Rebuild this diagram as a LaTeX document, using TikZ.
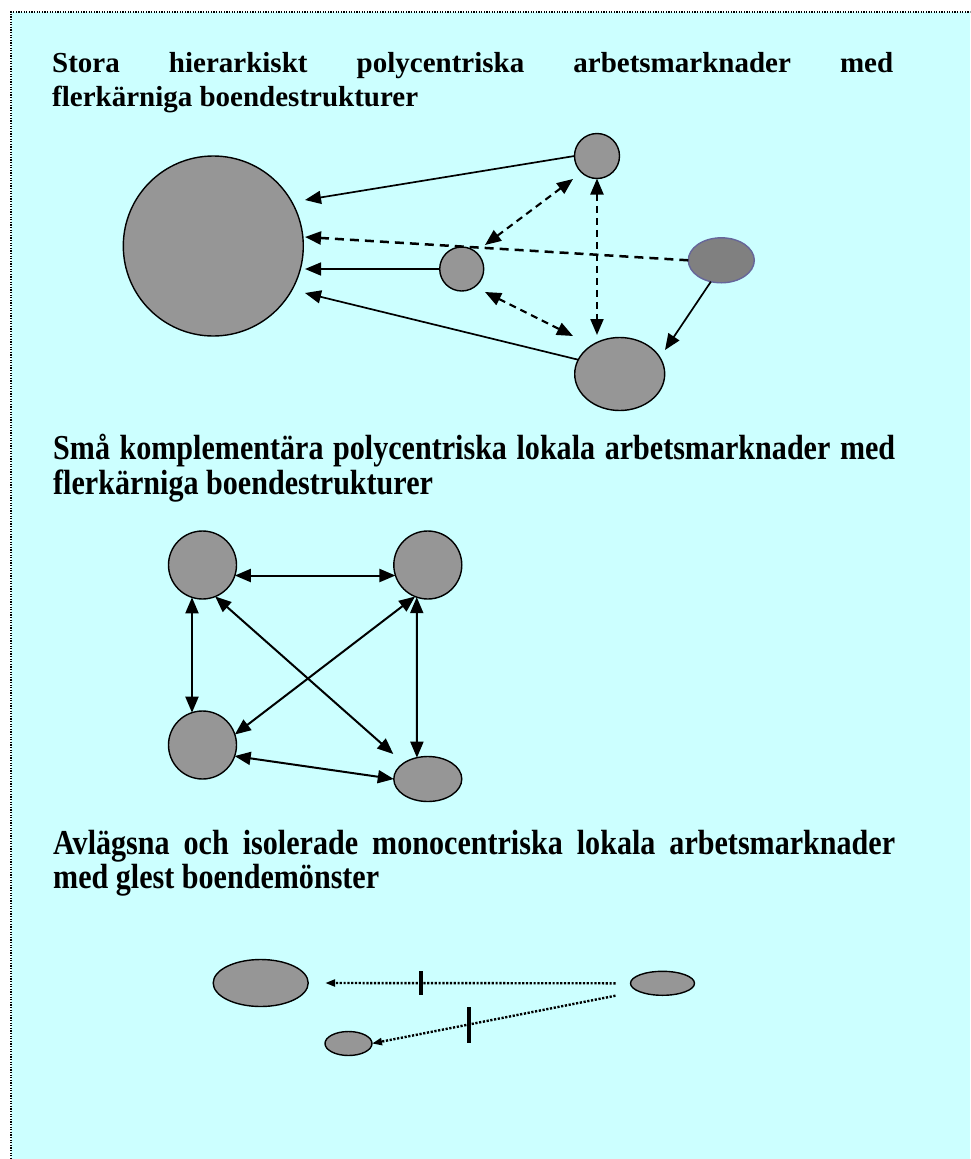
\documentclass[tikz,border=0pt]{standalone}
\usepackage{fontspec}
\setmainfont{Liberation Serif}
\newfontfamily\narrowserif[FakeStretch=0.86]{Liberation Serif}
\usetikzlibrary{arrows.meta,shapes.geometric}

\definecolor{paper}{HTML}{CCFFFF}
\definecolor{blob}{HTML}{969696}
\definecolor{darkblob}{HTML}{808080}
\definecolor{blobedge}{HTML}{666699}

\tikzset{
  hub/.style={circle,draw=black,fill=blob,line width=1.4pt,inner sep=0pt,outer sep=0pt,minimum size=#1},
  oval/.style 2 args={ellipse,draw=black,fill=blob,line width=1.4pt,inner sep=0pt,outer sep=0pt,minimum width=#1,minimum height=#2},
  heading/.style={anchor=base west,inner sep=0pt,font=\fontsize{29}{35}\selectfont\bfseries},
  narrowheading/.style={anchor=base west,inner sep=0pt,font=\narrowserif\fontsize{35}{40}\selectfont\bfseries},
  bigtip/.style={-{Triangle[length=16pt,width=13pt]}},
  bothtips/.style={{Triangle[length=16pt,width=13pt]}-{Triangle[length=16pt,width=13pt]}},
  flow/.style={line width=1.7pt},
  weakflow/.style={line width=2.5pt,dash pattern=on 9pt off 6pt},
  exchange/.style={line width=2.1pt,dash pattern=on 7pt off 5pt},
  link/.style={line width=2pt},
  faint/.style={line width=2.4pt,dash pattern=on 2.2pt off 1.6pt,-{Triangle[length=10pt,width=7pt]}},
  barrier/.style={line width=4pt}
}

\begin{document}
\begin{tikzpicture}[x=1pt,y=-1pt]
\useasboundingbox (0,0) rectangle (970,1159);

% sheet with dotted edge
\fill[paper] (11,12) rectangle (970,1159);
\draw[line width=1.3pt,dash pattern=on 1.3pt off 1.3pt] (11,1159) -- (11,12) -- (970,12);

% ---------- first panel ----------
\node[heading] (h1a) at (52,72) {\makebox[841pt][s]{Stora hierarkiskt polycentriska arbetsmarknader med}};
\node[heading] (h1b) at (52,106.5) {flerkärniga boendestrukturer};

\node[hub=180pt] (big) at (213.3,246) {};
\node[hub=44pt] (mid) at (461.7,269) {};
\node[hub=45pt] (tr) at (597,156) {};
\node[oval={66pt}{45pt},fill=darkblob,draw=blobedge] (re) at (721.3,260.3) {};
\node[oval={90pt}{73pt}] (br) at (619.7,374) {};

\coordinate (bigA) at (305,200);
\coordinate (bigB) at (305,237);
\coordinate (bigC) at (305,269);
\coordinate (bigD) at (305,293);
\coordinate (midNE) at (485,245);
\coordinate (trSW) at (573,179);
\coordinate (midSE) at (485,292);
\coordinate (brNW) at (573,336);
\coordinate (brN) at (597,335);
\coordinate (brNE) at (665,350);

\draw[flow,bigtip] (tr.west) -- (bigA);
\draw[weakflow,bigtip] (re.west) -- (bigB);
\draw[flow,bigtip] (mid.west) -- (bigC);
\draw[flow,bigtip] (br.161) -- (bigD);
\draw[exchange,bothtips] (midNE) -- (trSW);
\draw[exchange,bothtips] (midSE) -- (brNW);
\draw[exchange,bothtips] (tr.south) -- (brN);
\draw[flow,bigtip] (re.244) -- (brNE);

% ---------- second panel ----------
\node[narrowheading] (h2a) at (53,459) {\makebox[842pt][s]{Små komplementära polycentriska lokala arbetsmarknader med}};
\node[narrowheading] (h2b) at (53,494) {flerkärniga boendestrukturer};

\node[hub=68pt] (nw) at (202.5,565) {};
\node[hub=68pt] (ne) at (427.8,565) {};
\node[hub=68pt] (sw) at (202.5,745) {};
\node[oval={68pt}{45pt}] (se) at (427.8,779) {};
\coordinate (seNW) at (393.3,754);

\draw[link,bothtips] (nw.-18) -- (ne.198);
\draw[link,bothtips] (nw.252) -- (sw.108);
\draw[link,bothtips] (ne.251) -- (se.117);
\draw[link,bothtips] (nw.-68) -- (seNW);
\draw[link,bothtips] (ne.248) -- (sw.18);
\draw[link,bothtips] (sw.-19) -- (se.west);

% ---------- third panel ----------
\node[narrowheading] (h3a) at (53,854) {\makebox[842pt][s]{Avlägsna och isolerade monocentriska lokala arbetsmarknader}};
\node[narrowheading] (h3b) at (53,888) {med glest boendemönster};

\node[oval={95pt}{47pt}] (far) at (260.7,983) {};
\node[oval={64pt}{24pt}] (town) at (662.5,983.3) {};
\node[oval={47pt}{24pt}] (small) at (348.5,1043.5) {};

\draw[faint] ([xshift=-15pt]town.west) -- ([xshift=17pt]far.east);
\draw[faint] ([xshift=-15pt,yshift=-12.4pt]town.west) -- (small.east);
\draw[barrier] (421,971) -- (421,995);
\draw[barrier] (469.3,1007.3) -- (469.3,1043.3);
\end{tikzpicture}
\end{document}
